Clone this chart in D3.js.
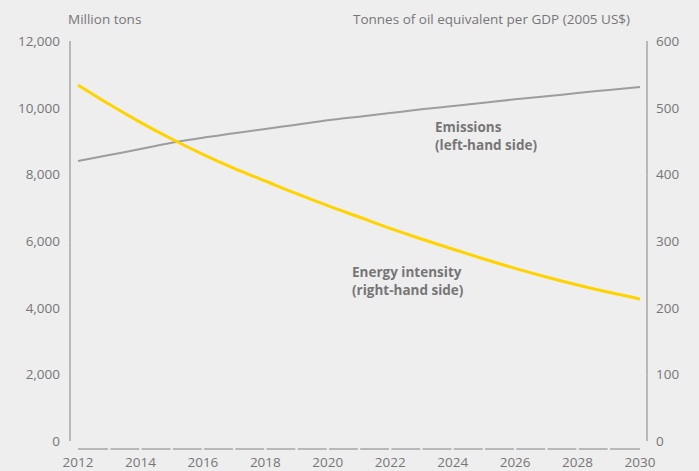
<!DOCTYPE html>
<html>
<head>
<meta charset="utf-8">
<script src="https://cdn.jsdelivr.net/npm/d3@7"></script>
<style>
  body { margin: 0; background: #eeeeee; }
  text { font-family: "Open Sans", Roboto, sans-serif; fill: #767676; }
</style>
</head>
<body>
<div id="chart"></div>
<script>
const years = d3.range(2012, 2031)
const emissions = [8400, 8580, 8760, 8950, 9100, 9230, 9360, 9490, 9620, 9730,
  9840, 9950, 10050, 10150, 10250, 10340, 10440, 10530, 10620]
const intensity = [534, 505, 478, 453, 430, 409, 390, 371, 353, 336,
  319, 303, 288, 273, 259, 246, 234, 223, 213]
const leftTicks = [0, 2000, 4000, 6000, 8000, 10000, 12000]
const rightTicks = [0, 100, 200, 300, 400, 500, 600]
const yearTicks = d3.range(2012, 2031, 2)

const width = 699, height = 471

const svg = d3.select("#chart")
  .append("svg")
    .attr("width", width)
    .attr("height", height)

svg.append("rect")
  .attr("width", width)
  .attr("height", height)
  .attr("fill", "#eeeeee")

// Scales
const x = d3.scaleLinear().domain([2012, 2030]).range([78, 640])
const yL = d3.scaleLinear().domain([0, 12000]).range([441, 41])
const yR = d3.scaleLinear().domain([0, 600]).range([441, 41])

const axisColor = "#a6a6a6"

// Left axis: segments between ticks
svg.selectAll("line.lseg")
  .data(d3.pairs(leftTicks))
  .enter()
  .append("line")
  .attr("x1", 70).attr("x2", 70)
  .attr("y1", d => yL(d[0]) + (d[0] === 0 ? 0 : 1.5))
  .attr("y2", d => yL(d[1]) + (d[1] === 12000 ? 0 : 1.5))
  .attr("stroke", axisColor)
  .attr("stroke-width", 1.5)

svg.selectAll("line.rseg")
  .data(d3.pairs(rightTicks))
  .enter()
  .append("line")
  .attr("x1", 647).attr("x2", 647)
  .attr("y1", d => yR(d[0]) + (d[0] === 0 ? 0 : 1.5))
  .attr("y2", d => yR(d[1]) + (d[1] === 600 ? 0 : 1.5))
  .attr("stroke", axisColor)
  .attr("stroke-width", 1.5)

// Bottom axis: one dash per year
svg.selectAll("line.xseg")
  .data(d3.pairs(years))
  .enter()
  .append("line")
  .attr("x1", d => x(d[0]) + (d[0] === 2012 ? 0 : 1.2))
  .attr("x2", d => x(d[1]) - (d[1] === 2030 ? 0 : 1.2))
  .attr("y1", 449).attr("y2", 449)
  .attr("stroke", axisColor)
  .attr("stroke-width", 1.5)

// Tick labels
svg.selectAll("text.lt")
  .data(leftTicks)
  .enter()
  .append("text")
  .attr("x", 60)
  .attr("y", d => yL(d) + 5)
  .attr("text-anchor", "end")
  .attr("font-size", 13.5)
  .text(d => d3.format(",")(d))

svg.selectAll("text.rt")
  .data(rightTicks)
  .enter()
  .append("text")
  .attr("x", 656)
  .attr("y", d => yR(d) + 5)
  .attr("font-size", 13.5)
  .text(d => d)

svg.selectAll("text.xt")
  .data(yearTicks)
  .enter()
  .append("text")
  .attr("x", d => x(d))
  .attr("y", 467)
  .attr("text-anchor", "middle")
  .attr("font-size", 13.5)
  .text(d => d)

// Axis titles
svg.append("text")
  .attr("x", 68).attr("y", 24)
  .attr("font-size", 13.5)
  .text("Million tons")

svg.append("text")
  .attr("x", 353).attr("y", 24)
  .attr("font-size", 13.5)
  .text("Tonnes of oil equivalent per GDP (2005 US$)")

// Lines
svg.append("path")
  .datum(years.map((d, i) => [d, emissions[i]]))
  .attr("fill", "none")
  .attr("stroke", "#9d9d9d")
  .attr("stroke-width", 2)
  .attr("d", d3.line().x(d => x(d[0])).y(d => yL(d[1])).curve(d3.curveMonotoneX))

svg.append("path")
  .datum(years.map((d, i) => [d, intensity[i]]))
  .attr("fill", "none")
  .attr("stroke", "#ffd300")
  .attr("stroke-width", 3)
  .attr("d", d3.line().x(d => x(d[0])).y(d => yR(d[1])).curve(d3.curveMonotoneX))

// Series labels
const labels = [
  {lines: ["Emissions", "(left-hand side)"], x: 435, y: 132},
  {lines: ["Energy intensity", "(right-hand side)"], x: 352, y: 277},
]
labels.forEach(l => {
  l.lines.forEach((t, i) => {
    svg.append("text")
      .attr("x", l.x)
      .attr("y", l.y + i * 18)
      .attr("font-size", 13.5)
      .attr("font-weight", "bold")
      .attr("fill", "#6e6e6e")
      .text(t)
  })
})
</script>
</body>
</html>
